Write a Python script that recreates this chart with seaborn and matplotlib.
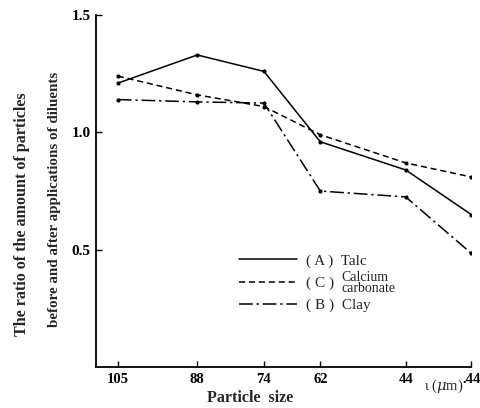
import matplotlib
matplotlib.use("Agg")
import matplotlib.pyplot as plt
import seaborn as sns
import pandas as pd
from matplotlib.lines import Line2D

sns.set_theme(style="ticks")
plt.rcParams["font.family"] = ["Liberation Serif", "DejaVu Serif"]
plt.rcParams["mathtext.fontset"] = "dejavuserif"

# particle size classes (sieve openings) and where they sit on the axis
size_labels = ["105", "88", "74", "62", "44", ".44"]
size_pos = [0.0, 1.0, 1.84, 2.55, 3.625, 4.45]

talc = [1.21, 1.33, 1.26, 0.96, 0.84, 0.65]
calcium_carbonate = [1.24, 1.16, 1.11, 0.99, 0.87, 0.81]
clay = [1.14, 1.13, 1.125, 0.75, 0.725, 0.485]

series_names = ["(A) Talc", "(C) Calcium carbonate", "(B) Clay"]

rows = []
for name, vals in zip(series_names, [talc, calcium_carbonate, clay]):
    for p, v in zip(size_pos, vals):
        rows.append({"pos": p, "ratio": v, "diluent": name})
df = pd.DataFrame(rows)

dash_styles = {
    "(A) Talc": "-",
    "(C) Calcium carbonate": (0, (4, 2.5)),
    "(B) Clay": (0, (9, 2.5, 1.5, 2.5)),
}

fig = plt.figure(figsize=(4.81, 4.08), dpi=100)
ax = fig.add_axes([0.1996, 0.1005, 0.7800, 0.8625])

for name in series_names:
    sub = df[df["diluent"] == name]
    sns.lineplot(data=sub, x="pos", y="ratio", ax=ax, color="black",
                 linewidth=1.1, linestyle=dash_styles[name],
                 marker="o", markersize=3, markeredgewidth=0, legend=False)

ax.set_xlim(-0.275, 4.45)
ax.set_ylim(0.0, 1.5)
ax.set_xticks(size_pos)
ax.set_xticklabels(size_labels, fontsize=10.5, fontweight="bold")
ax.set_yticks([0.5, 1.0, 1.5])
ax.set_yticklabels(["0.5", "1.0", "1.5"], fontsize=11, fontweight="bold")
ax.tick_params(axis="both", direction="in", length=4, width=1.0, pad=4,
               colors="black")
for s in ["top", "right"]:
    ax.spines[s].set_visible(False)
for s in ["left", "bottom"]:
    ax.spines[s].set_linewidth(1.3)
    ax.spines[s].set_color("black")
ax.set_xlabel("")
ax.set_ylabel("")

fig.text(0.046, 0.475, "The ratio of the amount of particles",
         rotation=90, ha="center", va="center", fontsize=11.6, fontweight="bold")
fig.text(0.114, 0.512, "before and after applications of diluents",
         rotation=90, ha="center", va="center", fontsize=10.8, fontweight="bold")
fig.text(0.52, 0.024, "Particle  size", ha="center", va="center",
         fontsize=11.5, fontweight="bold")
fig.text(0.922, 0.052, r"ι ($\mu$m)", ha="center", va="center", fontsize=10.5)

# legend drawn as line samples with labels
handles = [
    Line2D([], [], color="black", linewidth=1.1, linestyle="-"),
    Line2D([], [], color="black", linewidth=1.1, linestyle=(0, (4, 2.5))),
    Line2D([], [], color="black", linewidth=1.1, linestyle=(0, (9, 2.5, 1.5, 2.5))),
]
labels = ["( A )  Talc", "( C )", "( B )  Clay"]
leg = ax.legend(handles, labels, loc="upper left", bbox_to_anchor=(0.345, 0.36),
                frameon=False, handlelength=3.8, handletextpad=0.6,
                labelspacing=0.55, fontsize=11)

# two-line name next to the "( C )" entry
fig.canvas.draw()
bb = leg.get_texts()[1].get_window_extent()
fig.text((bb.x1 + 7) / fig.bbox.width, (bb.y0 + bb.y1) / 2 / fig.bbox.height,
         "Calcium\ncarbonate", ha="left", va="center", fontsize=10,
         linespacing=0.8)

fig.savefig("out.png", dpi=100, facecolor="white")
